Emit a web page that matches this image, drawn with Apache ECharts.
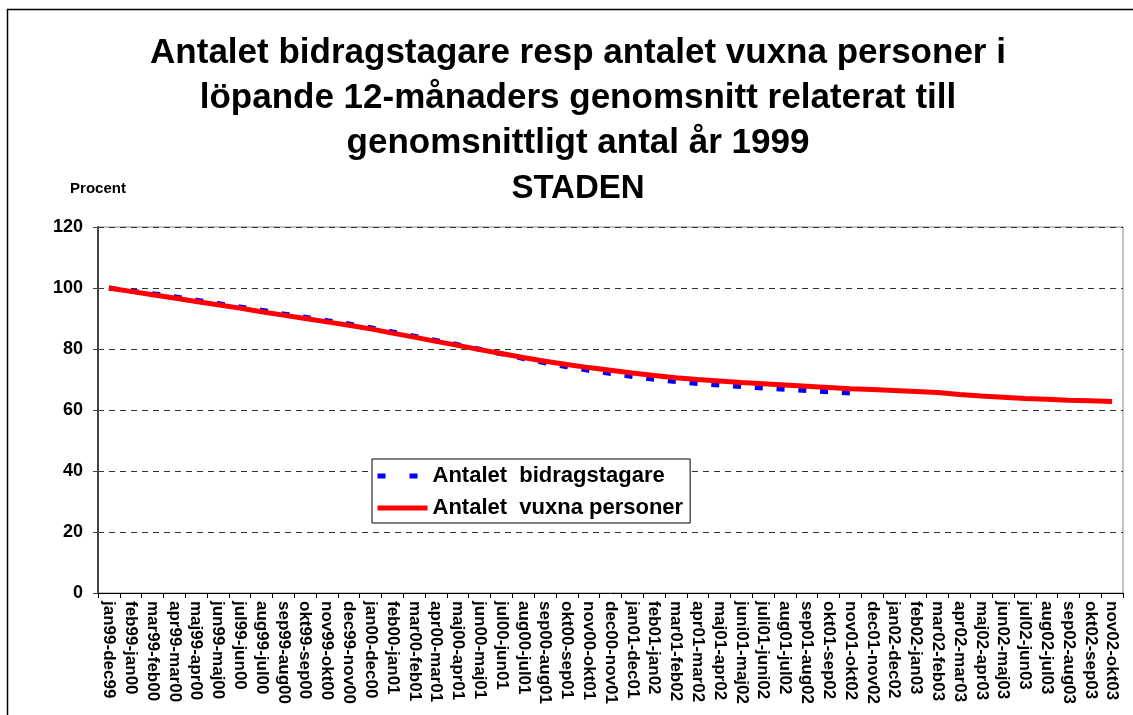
<!DOCTYPE html>
<html>
<head>
<meta charset="utf-8">
<script src="https://cdn.jsdelivr.net/npm/echarts@6/dist/echarts.min.js"></script>
<style>
  html, body { margin: 0; padding: 0; background: #fff; }
  #chart { width: 1133px; height: 715px; }
</style>
</head>
<body>
<div id="chart"></div>
<script>
// rolling 12-month periods
const periods = [
  'jan99-dec99', 'feb99-jan00', 'mar99-feb00', 'apr99-mar00', 'maj99-apr00', 'jun99-maj00',
  'jul99-jun00', 'aug99-jul00', 'sep99-aug00', 'okt99-sep00', 'nov99-okt00', 'dec99-nov00',
  'jan00-dec00', 'feb00-jan01', 'mar00-feb01', 'apr00-mar01', 'maj00-apr01', 'jun00-maj01',
  'jul00-jun01', 'aug00-jul01', 'sep00-aug01', 'okt00-sep01', 'nov00-okt01', 'dec00-nov01',
  'jan01-dec01', 'feb01-jan02', 'mar01-feb02', 'apr01-mar02', 'maj01-apr02', 'juni01-maj02',
  'juli01-juni02', 'aug01-jul02', 'sep01-aug02', 'okt01-sep02', 'nov01-okt02', 'dec01-nov02',
  'jan02-dec02', 'feb02-jan03', 'mar02-feb03', 'apr02-mar03', 'maj02-apr03', 'jun02-maj03',
  'jul02-jun03', 'aug02-jul03', 'sep02-aug03', 'okt02-sep03', 'nov02-okt03'
]

// index, average 1999 = 100
const bidragstagare = [
  100, 99.0, 98.1, 97.1, 96.0, 94.9, 93.8, 92.7, 91.5, 90.4, 89.3, 88.2,
  87.0, 85.6, 84.2, 82.8, 81.4, 79.9, 78.4, 76.9, 75.5, 74.2, 73.0, 72.0,
  71.0, 70.1, 69.3, 68.7, 68.2, 67.7, 67.2, 66.8, 66.4, 66.0, 65.6,
  null, null, null, null, null, null, null, null, null, null, null, null
]

const vuxnaPersoner = [
  100, 98.9, 97.8, 96.7, 95.6, 94.5, 93.4, 92.2, 91.1, 90.0, 88.9, 87.8,
  86.6, 85.2, 83.9, 82.5, 81.2, 79.8, 78.5, 77.2, 76.0, 74.9, 73.9, 73.0,
  72.1, 71.3, 70.6, 70.0, 69.5, 69.0, 68.6, 68.2, 67.8, 67.4, 67.0, 66.7,
  66.4, 66.1, 65.7, 65.1, 64.6, 64.2, 63.8, 63.5, 63.2, 63.0, 62.8
]

const seriesNames = ['Antalet  bidragstagare', 'Antalet  vuxna personer']
const titleText = 'Antalet bidragstagare resp antalet vuxna personer i\n' +
  'löpande 12-månaders genomsnitt relaterat till\n' +
  'genomsnittligt antal år 1999\n{s|STADEN}'

const font = '"Liberation Sans", Arial, sans-serif'

const chart = echarts.init(document.getElementById('chart'), null, { renderer: 'canvas' })

chart.setOption({
  animation: false,
  backgroundColor: '#fff',
  textStyle: { fontFamily: font },
  graphic: [{
    type: 'rect',
    shape: { x: 7.5, y: 9.5, width: 1200, height: 800 },
    style: { fill: 'none', stroke: '#000', lineWidth: 1.5 },
    silent: true
  }],
  title: {
    text: titleText,
    left: 573,
    top: 26,
    textAlign: 'center',
    textStyle: {
      fontFamily: font,
      fontSize: 35,
      fontWeight: 'bold',
      color: '#000',
      lineHeight: 45,
      rich: {
        s: { fontFamily: font, fontSize: 33, fontWeight: 'bold', color: '#000', lineHeight: 45 }
      }
    }
  },
  legend: {
    orient: 'vertical',
    left: 372,
    top: 459,
    padding: [6, 7, 4, 3],
    itemGap: 10,
    itemWidth: 50,
    itemHeight: 14,
    borderColor: '#000',
    borderWidth: 1,
    backgroundColor: '#fff',
    itemStyle: { color: 'rgba(0,0,0,0)', borderWidth: 0, opacity: 0 },
    lineStyle: { width: 5 },
    data: [
      { name: seriesNames[0], lineStyle: { width: 5, type: [8, 24] } },
      { name: seriesNames[1], lineStyle: { width: 5 } }
    ],
    textStyle: { fontFamily: font, fontSize: 22, fontWeight: 'bold', color: '#000' }
  },
  grid: {
    left: 98,
    right: 10,
    top: 227,
    bottom: 122,
    show: true,
    borderColor: '#888',
    borderWidth: 1,
    containLabel: false
  },
  xAxis: {
    type: 'category',
    data: periods,
    boundaryGap: true,
    axisLine: { lineStyle: { color: '#000', width: 1 } },
    axisTick: { show: true, length: 5, interval: 0, lineStyle: { color: '#000' } },
    axisLabel: {
      interval: 0,
      rotate: -90,
      margin: 8,
      fontFamily: font,
      fontSize: 17,
      fontWeight: 'bold',
      color: '#000'
    },
    splitLine: { show: false }
  },
  yAxis: {
    type: 'value',
    min: 0,
    max: 120,
    interval: 20,
    name: 'Procent',
    nameLocation: 'end',
    nameGap: 31,
    nameTextStyle: { fontFamily: font, fontSize: 15, fontWeight: 'bold', color: '#000', align: 'center' },
    axisLine: { show: true, lineStyle: { color: '#444', width: 2 } },
    axisTick: { show: true, length: 5, lineStyle: { color: '#444' } },
    axisLabel: { margin: 15, fontFamily: font, fontSize: 18, fontWeight: 'bold', color: '#000' },
    splitLine: { show: true, lineStyle: { color: '#333', width: 1, type: [6, 5] } }
  },
  series: [
    {
      name: seriesNames[0],
      type: 'line',
      data: bidragstagare,
      symbol: 'none',
      smooth: false,
      connectNulls: false,
      lineStyle: { color: '#0000ff', width: 5, type: [8, 13.8] },
      itemStyle: { color: '#0000ff' },
      z: 2
    },
    {
      name: seriesNames[1],
      type: 'line',
      data: vuxnaPersoner,
      symbol: 'none',
      smooth: false,
      lineStyle: { color: '#ff0000', width: 5 },
      itemStyle: { color: '#ff0000' },
      z: 3
    }
  ]
})
</script>
</body>
</html>
